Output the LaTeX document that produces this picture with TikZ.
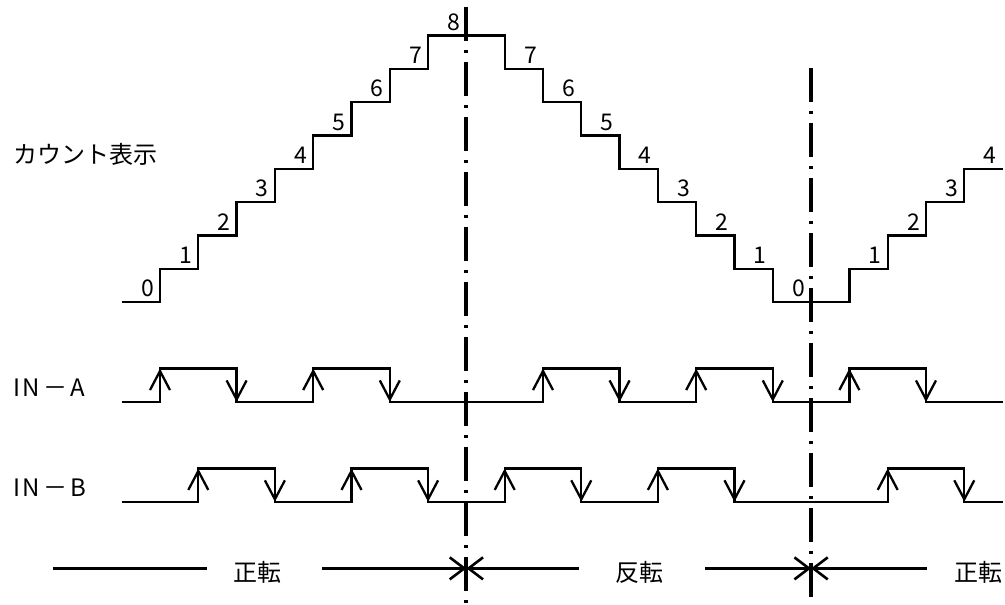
\documentclass[tikz,border=0pt]{standalone}
\usepackage{fontspec}
\setmainfont{Noto Sans CJK JP}
\usetikzlibrary{arrows.meta}
\begin{document}
\begin{tikzpicture}[x=38.3pt, y=33.3pt, line width=2.3pt, line join=miter, font=\fontsize{24}{28}\selectfont,
	num/.style={anchor=south east, inner sep=0pt, xshift=-5pt, yshift=4pt, font=\fontsize{23}{26}\selectfont},
	edge/.style={-{Straight Barb[length=19pt, width=20pt]}},
	cut/.style={-{Straight Barb[length=14.5pt, width=22pt]}, line width=2.6pt},
	axis/.style={line width=4pt, dash pattern=on 34pt off 9pt on 3pt off 9pt}]
	\useasboundingbox (-3.1775,-9.099) rectangle (23.063,9.069);
	\path
	(-1.79,-8) coordinate (L0)
	(2.23,-8) coordinate (L1)
	(5.23,-8) coordinate (L2)
	(9,-8) coordinate (X1)
	(11.94,-8) coordinate (L3)
	(15.23,-8) coordinate (L4)
	(18,-8) coordinate (X2)
	(21.03,-8) coordinate (L5)
	;
	\draw (0,0) -| (1,1) -| (2,2) -| (3,3) -| (4,4) -| (5,5) -| (6,6) -| (7,7) -| (8,8) -- (10,8)
	|- (11,7) |- (12,6) |- (13,5) |- (14,4) |- (15,3) |- (16,2) |- (17,1) |- (19,0)
	|- (20,1) |- (21,2) |- (22,3) |- (23,4);
	\foreach \x/\y in {1/0,2/1,3/2,4/3,5/4,6/5,7/6,8/7,9/8,11/7,12/6,13/5,14/4,15/3,16/2,17/1,18/0,20/1,21/2,22/3,23/4}
	\node[num] (n\x) at (\x,\y) {\y};
	\draw (0,-3) -| (1,-2) -| (3,-3) -| (5,-2) -| (7,-3) -| (11,-2) -| (13,-3) -| (15,-2) -| (17,-3) -| (19,-2) -| (21,-3) -- (23,-3);
	\foreach \x in {1,5,11,15,19} \draw[edge] (\x,-3) -- (\x,-2);
	\foreach \x in {3,7,13,17,21} \draw[edge] (\x,-2) -- (\x,-3);
	\draw (0,-6) -| (2,-5) -| (4,-6) -| (6,-5) -| (8,-6) -| (10,-5) -| (12,-6) -| (14,-5) -| (16,-6) -| (20,-5) -| (22,-6) -- (23,-6);
	\foreach \x in {2,6,10,14,20} \draw[edge] (\x,-6) -- (\x,-5);
	\foreach \x in {4,8,12,16,22} \draw[edge] (\x,-5) -- (\x,-6);
	\draw[axis] (9,8.86) -- (9,-9.1);
	\draw[axis] (18,7.03) -- (18,-9.1);
	\node[anchor=west, inner sep=0pt] (count) at (-2.846,4.44) {カウント表示};
	\node[anchor=west, inner sep=0pt] (inA) at (-2.846,-2.58) {I\kern2pt N\kern3pt－\kern3pt A};
	\node[anchor=west, inner sep=0pt] (inB) at (-2.846,-5.59) {I\kern2pt N\kern3pt－\kern3pt B};
	\node (fwd) at (3.54,-8.12) {正転};
	\node (rev) at (13.53,-8.12) {反転};
	\node (fwd') at (22.36,-8.12) {正転};
	\draw (L0) -- (L1);
	\draw[cut] (L2) -- (X1);
	\draw[cut] (L3) -- (X1);
	\draw[cut] (L4) -- (X2);
	\draw[cut] (L5) -- (X2);
\end{tikzpicture}
\end{document}
